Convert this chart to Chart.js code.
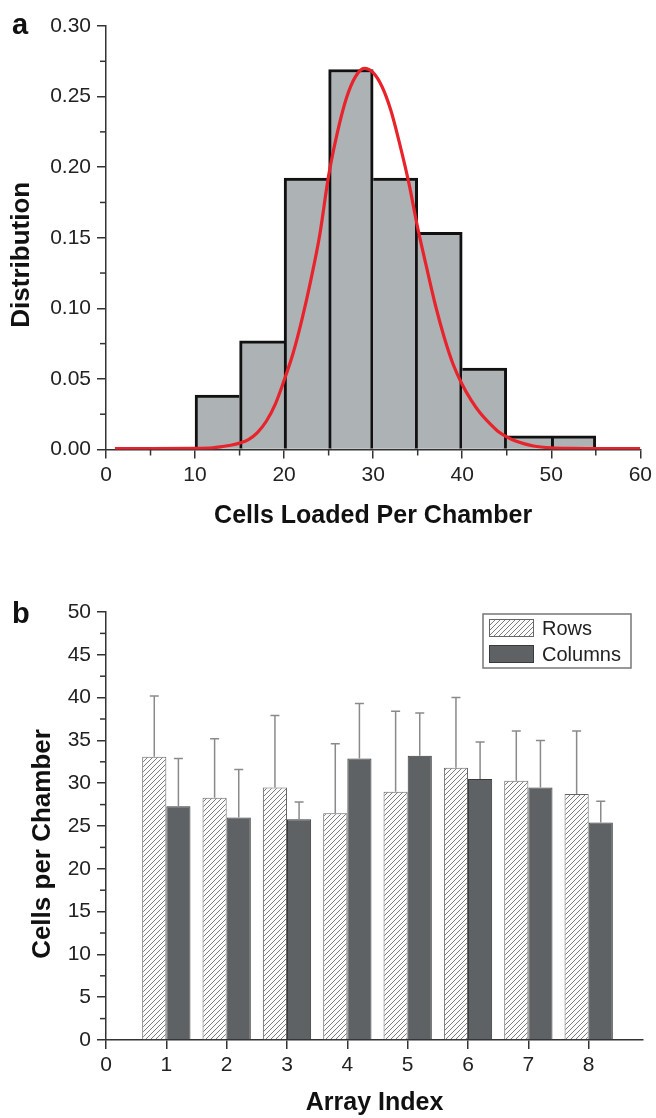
<!DOCTYPE html>
<html>
<head>
<meta charset="utf-8">
<script src="https://cdn.jsdelivr.net/npm/chart.js@4.4.1/dist/chart.umd.min.js"></script>
<style>
  body { margin: 0; background: #fff; }
  #page { position: relative; width: 656px; height: 1118px; }
  canvas { position: absolute; left: 0; }
  .panel { position: absolute; left: 12px; font: bold 29px 'Liberation Sans', Arial, sans-serif; line-height: 29px; color: #111; }
</style>
</head>
<body>
<div id="page">
  <canvas id="histChart" width="656" height="545" style="top:0"></canvas>
  <canvas id="barChart" width="656" height="573" style="top:545px"></canvas>
  <div class="panel" style="top:10px">a</div>
  <div class="panel" style="top:599px">b</div>
</div>
<script>
// panel a: histogram of cells per chamber + fitted curve
const binCenters = [12.5, 17.5, 22.5, 27.5, 32.5, 37.5, 42.5, 47.5, 52.5];
const binFractions = [0.0385, 0.0769, 0.1923, 0.2692, 0.1923, 0.1538, 0.0577, 0.0096, 0.0096];

// red fit curve
const fitX = [1, 5, 10, 12, 13, 14, 15, 16, 17, 18, 19, 20, 21, 22, 23, 24, 25, 26, 27, 28, 29,
              30, 31, 32, 33, 34, 35, 36, 37, 38, 39, 40, 41, 42, 43, 44, 45, 46, 47, 48, 50, 52, 55, 60];
const fitY = [0.0007, 0.0007, 0.0008, 0.0012, 0.002, 0.003, 0.0045, 0.007, 0.012, 0.020, 0.032, 0.049,
              0.068, 0.092, 0.120, 0.152, 0.194, 0.225, 0.249, 0.264, 0.270,
              0.267, 0.257, 0.240, 0.216, 0.189, 0.157, 0.129, 0.102, 0.079, 0.060, 0.046,
              0.035, 0.026, 0.019, 0.013, 0.009, 0.006, 0.004, 0.0025, 0.0012, 0.0008, 0.0007, 0.0007];

// panel b: mean cells per chamber with upper error bars
const arrayIndex = [1, 2, 3, 4, 5, 6, 7, 8];
const rowsMean = [33.1, 28.3, 29.5, 26.5, 29.0, 31.8, 30.3, 28.75];
const rowsSd = [7.1, 6.9, 8.4, 8.1, 9.4, 8.2, 5.8, 7.35];
const columnsMean = [27.3, 26.0, 25.8, 32.9, 33.2, 30.5, 29.5, 25.4];
const columnsSd = [5.6, 5.6, 2.0, 6.4, 5.0, 4.3, 5.5, 2.5];

Chart.defaults.font.family = "'Liberation Sans', Arial, sans-serif";
const axisColor = '#333';
const tickFont = { size: 21 };
const titleFont = { size: 25, weight: 'bold' };

// small minor ticks between the major ones
const minorTicks = {
  id: 'minorTicks',
  afterDraw(chart, args, opts) {
    const { ctx, chartArea } = chart;
    ctx.save();
    ctx.strokeStyle = axisColor;
    ctx.lineWidth = 1.5;
    ['x', 'y'].forEach(id => {
      const step = opts[id];
      if (!step) return;
      const s = chart.scales[id];
      for (let v = s.min + step; v < s.max; v += 2 * step) {
        const p = s.getPixelForValue(v);
        ctx.beginPath();
        if (id === 'x') { ctx.moveTo(p, chartArea.bottom); ctx.lineTo(p, chartArea.bottom + 6); }
        else { ctx.moveTo(chartArea.left - 6, p); ctx.lineTo(chartArea.left, p); }
        ctx.stroke();
      }
    });
    ctx.restore();
  }
};

// rotated y title, centred a little below the middle of the axis like the original
const sideTitle = {
  id: 'sideTitle',
  afterDraw(chart, args, opts) {
    if (!opts.text) return;
    const { ctx, chartArea } = chart;
    ctx.save();
    ctx.translate(opts.x, (chartArea.top + chartArea.bottom) / 2 + opts.shift);
    ctx.rotate(-Math.PI / 2);
    ctx.font = "bold 26px 'Liberation Sans', Arial, sans-serif";
    ctx.fillStyle = '#111';
    ctx.textAlign = 'center';
    ctx.textBaseline = 'middle';
    ctx.fillText(opts.text, 0, 0);
    ctx.restore();
  }
};

// upper error bars on top of each bar
const errorBars = {
  id: 'errorBars',
  afterDatasetsDraw(chart) {
    const { ctx } = chart;
    const y = chart.scales.y;
    ctx.save();
    ctx.strokeStyle = '#8a8a8a';
    ctx.lineWidth = 1.5;
    chart.data.datasets.forEach((ds, di) => {
      if (!ds.errorPlus) return;
      chart.getDatasetMeta(di).data.forEach((bar, i) => {
        const top = y.getPixelForValue(ds.data[i].y + ds.errorPlus[i]);
        ctx.beginPath();
        ctx.moveTo(bar.x, bar.y);
        ctx.lineTo(bar.x, top);
        ctx.moveTo(bar.x - 4.5, top);
        ctx.lineTo(bar.x + 4.5, top);
        ctx.stroke();
      });
    });
    ctx.restore();
  }
};

// boxed legend in the upper right of panel b
const boxLegend = {
  id: 'boxLegend',
  afterDraw(chart) {
    const { ctx, chartArea } = chart;
    const left = chartArea.right - 160, top = chartArea.top + 2;
    ctx.save();
    ctx.strokeStyle = '#777';
    ctx.lineWidth = 1.5;
    ctx.strokeRect(left, top, 148, 54);
    ctx.font = "20px 'Liberation Sans', Arial, sans-serif";
    ctx.textBaseline = 'middle';
    chart.data.datasets.forEach((ds, i) => {
      const sy = top + 5 + i * 26;
      ctx.fillStyle = ds.backgroundColor;
      ctx.fillRect(left + 6, sy, 45, 18);
      ctx.strokeStyle = ds.borderColor;
      ctx.lineWidth = 1;
      ctx.strokeRect(left + 6.5, sy + 0.5, 44, 17);
      ctx.fillStyle = '#222';
      ctx.fillText(ds.label, left + 59, sy + 10);
    });
    ctx.restore();
  }
};

function makeHatch() {
  const c = document.createElement('canvas');
  c.width = c.height = 5;
  const g = c.getContext('2d');
  g.fillStyle = '#fbfbfb';
  g.fillRect(0, 0, 5, 5);
  g.strokeStyle = '#7c7c7c';
  g.lineWidth = 1;
  g.beginPath();
  g.moveTo(0, 5); g.lineTo(5, 0);
  g.moveTo(-1, 1); g.lineTo(1, -1);
  g.moveTo(4, 6); g.lineTo(6, 4);
  g.stroke();
  return g.createPattern(c, 'repeat');
}

function axisOpts(extra) {
  return Object.assign({
    grid: { offset: false, drawOnChartArea: false, drawTicks: true, tickLength: 9, color: axisColor, lineWidth: 1.5 },
    border: { display: true, color: axisColor, width: 1.5 }
  }, extra);
}

// the taller of two neighbouring bins draws the shared edge
function histBorder(ctx) {
  const i = ctx.dataIndex, v = binFractions;
  const left = (i === 0 || v[i] >= v[i - 1]) ? 3 : 0;
  const right = (i === v.length - 1 || v[i] > v[i + 1]) ? 3 : 0;
  return { top: 3, left: left, right: right, bottom: 0 };
}

new Chart(document.getElementById('histChart'), {
  type: 'bar',
  data: {
    datasets: [
      {
        type: 'line',
        label: 'Fit',
        data: fitX.map((x, i) => ({ x: x, y: fitY[i] })),
        borderColor: '#e8232b',
        borderWidth: 3.2,
        pointRadius: 0,
        cubicInterpolationMode: 'monotone',
        order: 0
      },
      {
        label: 'Distribution',
        data: binCenters.map((x, i) => ({ x: x, y: binFractions[i] })),
        backgroundColor: '#adb2b5',
        borderColor: '#111',
        borderWidth: histBorder,
        borderSkipped: false,
        barPercentage: 1,
        categoryPercentage: 1,
        order: 1
      }
    ]
  },
  options: {
    responsive: false,
    animation: false,
    layout: { padding: { top: 26, right: 13, left: 0, bottom: 0 } },
    plugins: {
      legend: { display: false }, tooltip: { enabled: false },
      minorTicks: { x: 5, y: 0.025 },
      sideTitle: { text: 'Distribution', x: 22, shift: 17 }
    },
    scales: {
      x: axisOpts({
        type: 'linear', min: 0, max: 60, offset: false,
        ticks: { stepSize: 10, font: tickFont, color: '#222', padding: 4 },
        title: { display: true, text: 'Cells Loaded Per Chamber', font: titleFont, color: '#111', padding: { top: 0, bottom: 14 } },
        afterFit: s => { s.height = 95.5; }
      }),
      y: axisOpts({
        min: 0, max: 0.3,
        ticks: { stepSize: 0.05, font: tickFont, color: '#222', padding: 6, callback: v => v.toFixed(2) },
        afterFit: s => { s.width = 106; }
      })
    }
  },
  plugins: [minorTicks, sideTitle]
});

new Chart(document.getElementById('barChart'), {
  type: 'bar',
  data: {
    datasets: [
      {
        label: 'Rows',
        data: arrayIndex.map((x, i) => ({ x: x, y: rowsMean[i] })),
        errorPlus: rowsSd,
        backgroundColor: makeHatch(),
        borderColor: '#666',
        borderWidth: 1,
        borderSkipped: 'start'
      },
      {
        label: 'Columns',
        data: arrayIndex.map((x, i) => ({ x: x, y: columnsMean[i] })),
        errorPlus: columnsSd,
        backgroundColor: '#5e6264',
        borderColor: '#3a3a3a',
        borderWidth: 1,
        borderSkipped: 'start'
      }
    ]
  },
  options: {
    responsive: false,
    animation: false,
    categoryPercentage: 0.8,
    barPercentage: 1,
    layout: { padding: { top: 67, right: 13, left: 0, bottom: 0 } },
    plugins: {
      legend: { display: false }, tooltip: { enabled: false },
      minorTicks: { y: 2.5 },
      sideTitle: { text: 'Cells per Chamber', x: 43, shift: 18 }
    },
    scales: {
      x: axisOpts({
        type: 'linear', min: 0, max: 8.9, offset: false,
        ticks: { stepSize: 1, includeBounds: false, font: tickFont, color: '#222', padding: 4 },
        title: { display: true, text: 'Array Index', font: titleFont, color: '#111', padding: { top: 0, bottom: 0 } },
        afterFit: s => { s.height = 78; }
      }),
      y: axisOpts({
        min: 0, max: 50,
        ticks: { stepSize: 5, font: tickFont, color: '#222', padding: 6 },
        afterFit: s => { s.width = 106; }
      })
    }
  },
  plugins: [minorTicks, errorBars, boxLegend, sideTitle]
});
</script>
</body>
</html>
